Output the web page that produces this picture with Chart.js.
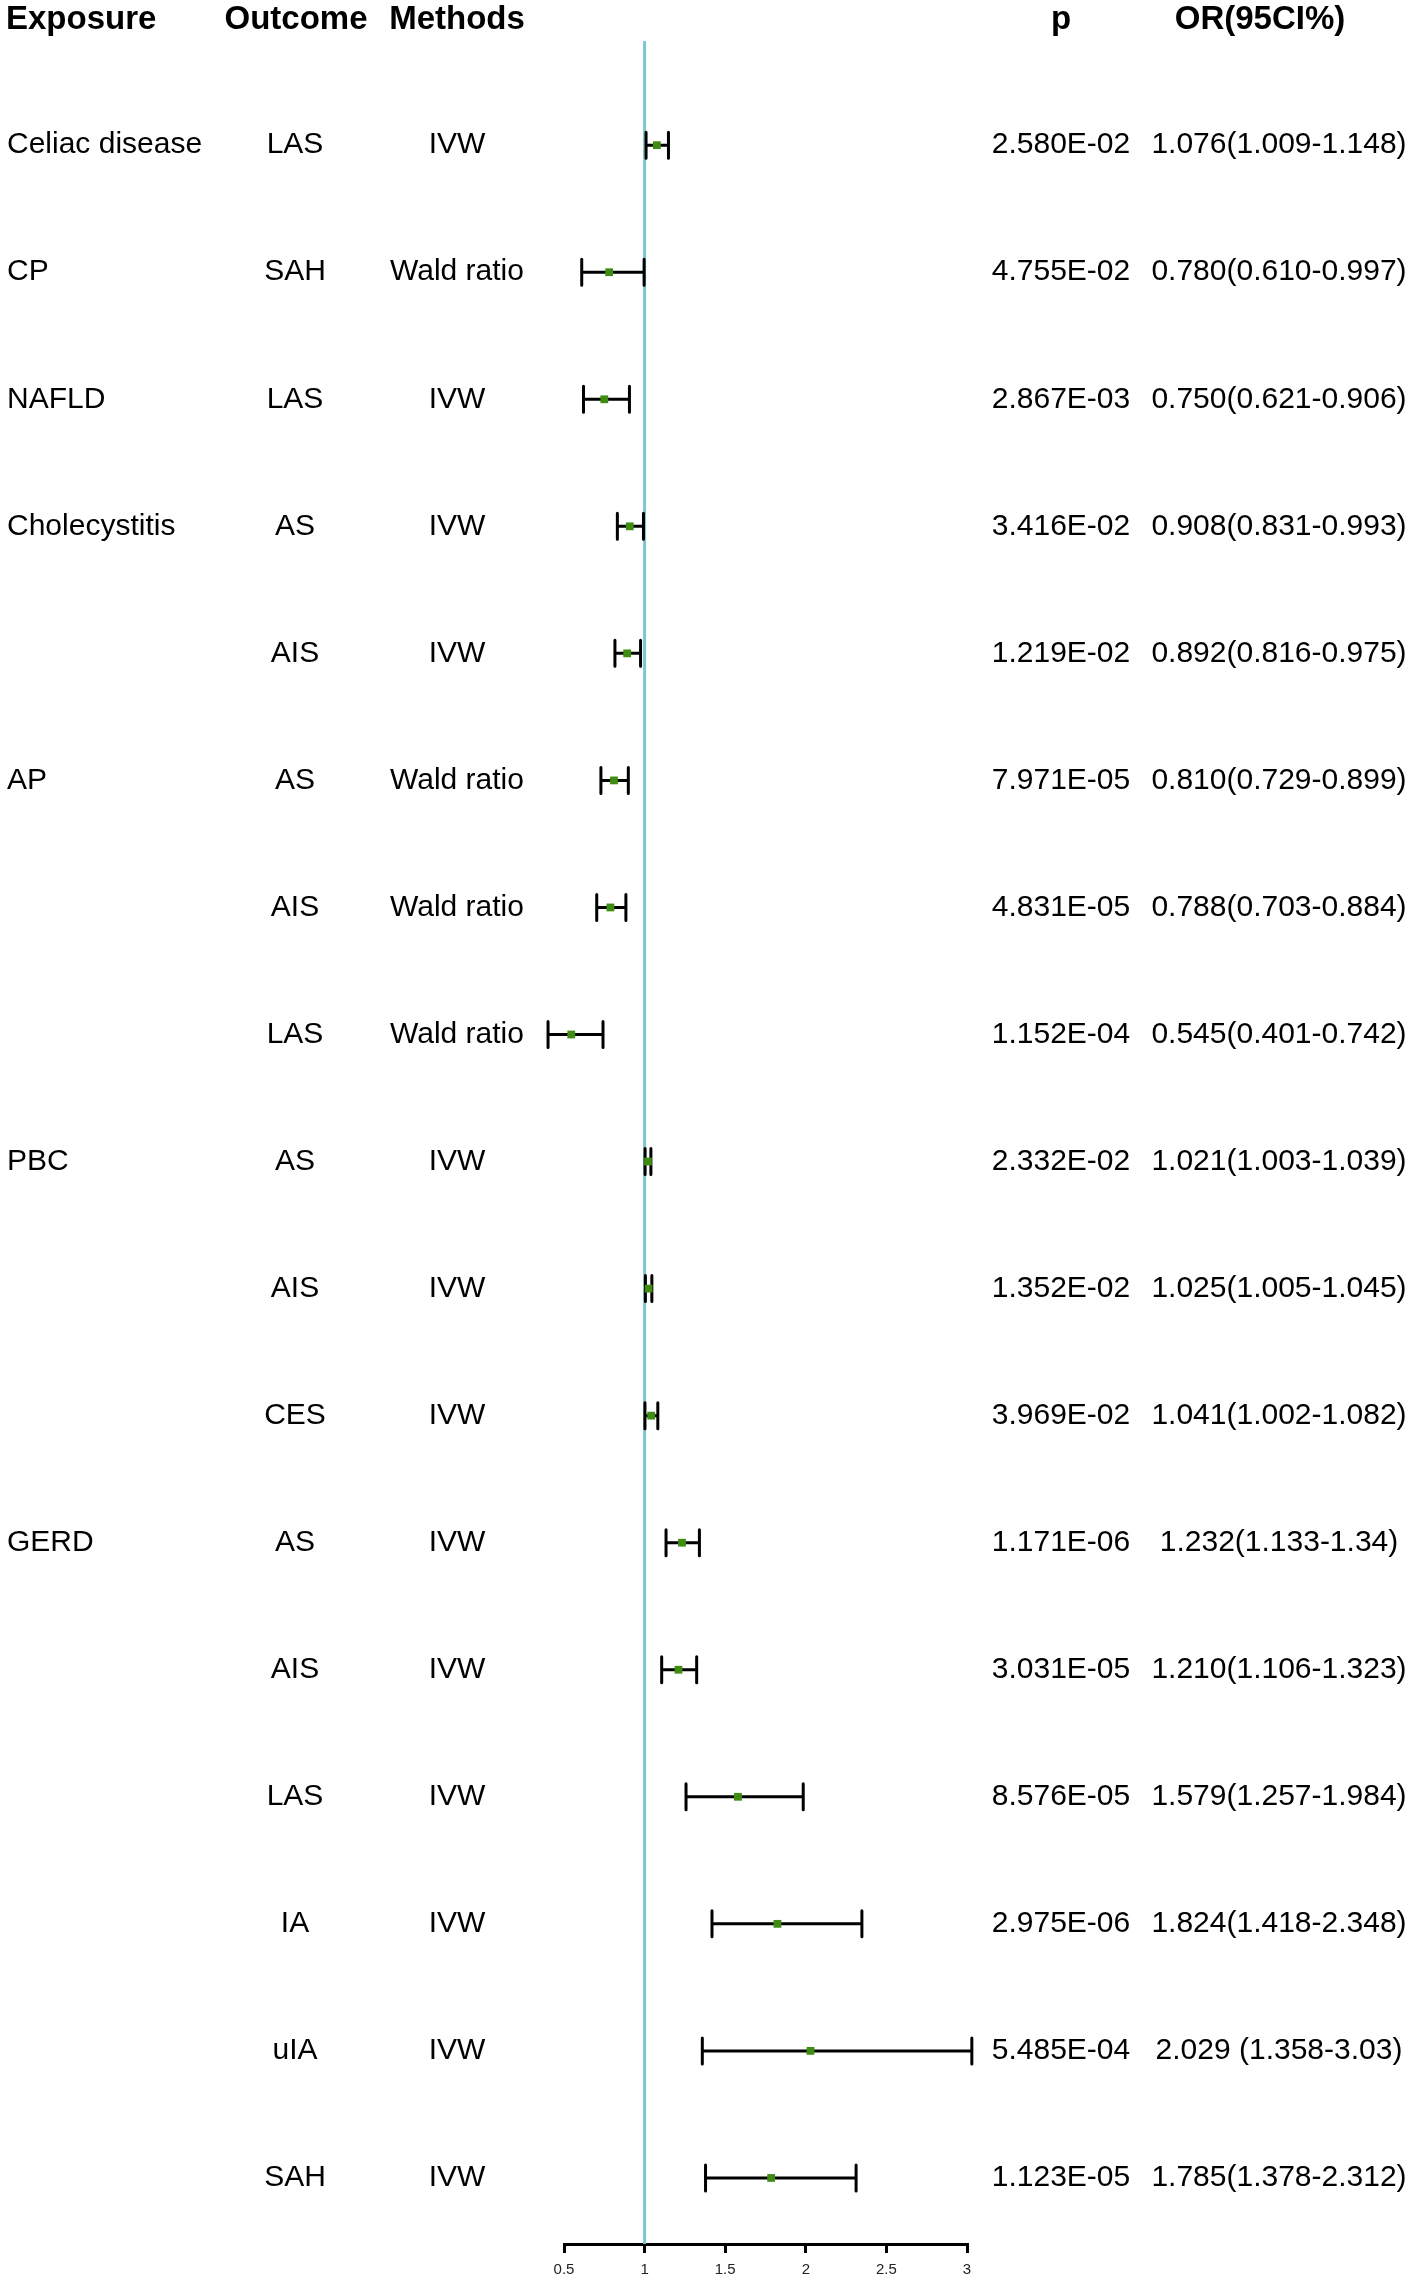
<!DOCTYPE html>
<html>
<head>
<meta charset="utf-8">
<script src="https://cdn.jsdelivr.net/npm/chart.js@4.4.1/dist/chart.umd.min.js"></script>
<style>
  html, body { margin: 0; padding: 0; background: #fff; }
  canvas { display: block; }
</style>
</head>
<body>
<canvas id="forest" width="1417" height="2284"></canvas>
<script>
const exposures = ['Celiac disease', 'CP', 'NAFLD', 'Cholecystitis', '', 'AP', '', '', 'PBC', '', '', 'GERD', '', '', '', '', ''];
const outcomes = ['LAS', 'SAH', 'LAS', 'AS', 'AIS', 'AS', 'AIS', 'LAS', 'AS', 'AIS', 'CES', 'AS', 'AIS', 'LAS', 'IA', 'uIA', 'SAH'];
const methods = ['IVW', 'Wald ratio', 'IVW', 'IVW', 'IVW', 'Wald ratio', 'Wald ratio', 'Wald ratio', 'IVW', 'IVW', 'IVW', 'IVW', 'IVW', 'IVW', 'IVW', 'IVW', 'IVW'];
const pValues = ['2.580E-02', '4.755E-02', '2.867E-03', '3.416E-02', '1.219E-02', '7.971E-05', '4.831E-05', '1.152E-04', '2.332E-02', '1.352E-02', '3.969E-02', '1.171E-06', '3.031E-05', '8.576E-05', '2.975E-06', '5.485E-04', '1.123E-05'];
const orText = ['1.076(1.009-1.148)', '0.780(0.610-0.997)', '0.750(0.621-0.906)', '0.908(0.831-0.993)', '0.892(0.816-0.975)', '0.810(0.729-0.899)', '0.788(0.703-0.884)', '0.545(0.401-0.742)', '1.021(1.003-1.039)', '1.025(1.005-1.045)', '1.041(1.002-1.082)', '1.232(1.133-1.34)', '1.210(1.106-1.323)', '1.579(1.257-1.984)', '1.824(1.418-2.348)', '2.029 (1.358-3.03)', '1.785(1.378-2.312)'];
const orValues = [1.076, 0.780, 0.750, 0.908, 0.892, 0.810, 0.788, 0.545, 1.021, 1.025, 1.041, 1.232, 1.210, 1.579, 1.824, 2.029, 1.785];
const ciLow = [1.009, 0.610, 0.621, 0.831, 0.816, 0.729, 0.703, 0.401, 1.003, 1.005, 1.002, 1.133, 1.106, 1.257, 1.418, 1.358, 1.378];
const ciHigh = [1.148, 0.997, 0.906, 0.993, 0.975, 0.899, 0.884, 0.742, 1.039, 1.045, 1.082, 1.34, 1.323, 1.984, 2.348, 3.03, 2.312];
const xTicks = [0.5, 1, 1.5, 2, 2.5, 3];
const headers = ['Exposure', 'Outcome', 'Methods', 'p', 'OR(95CI%)'];

// row i sits at y = i + 1
const points = orValues.map((v, i) => ({ x: v, y: i + 1 }));

const FONT = '"Liberation Sans", Arial, sans-serif';

// reference line at OR = 1 and the CI whiskers, under the points
const whiskers = {
    id: 'whiskers',
    beforeDatasetsDraw(chart) {
        const { ctx, chartArea, scales: { x, y } } = chart;
        ctx.save();
        ctx.strokeStyle = '#7fc5cf';
        ctx.lineWidth = 3;
        const x1 = x.getPixelForValue(1);
        ctx.beginPath();
        ctx.moveTo(x1, chartArea.top);
        ctx.lineTo(x1, chartArea.bottom);
        ctx.stroke();

        ctx.strokeStyle = '#000';
        ctx.lineWidth = 3;
        ctx.lineCap = 'round';
        ciLow.forEach((lo, i) => {
            const py = y.getPixelForValue(i + 1);
            const a = x.getPixelForValue(lo);
            const b = x.getPixelForValue(ciHigh[i]);
            ctx.beginPath();
            ctx.moveTo(a, py); ctx.lineTo(b, py);
            ctx.moveTo(a, py - 13); ctx.lineTo(a, py + 13);
            ctx.moveTo(b, py - 13); ctx.lineTo(b, py + 13);
            ctx.stroke();
        });
        ctx.restore();
    }
};

// the table text columns
const table = {
    id: 'table',
    afterDraw(chart) {
        const { ctx, scales: { y } } = chart;
        ctx.save();
        ctx.fillStyle = '#000';
        ctx.textBaseline = 'middle';

        ctx.font = 'bold 33px ' + FONT;
        ctx.textAlign = 'left';
        ctx.fillText(headers[0], 6, 20);
        ctx.textAlign = 'center';
        ctx.fillText(headers[1], 296, 20);
        ctx.fillText(headers[2], 457, 20);
        ctx.fillText(headers[3], 1061, 20);
        ctx.fillText(headers[4], 1260, 20);

        ctx.font = '30px ' + FONT;
        outcomes.forEach((o, i) => {
            const py = y.getPixelForValue(i + 1);
            ctx.textAlign = 'left';
            ctx.fillText(exposures[i], 7, py);
            ctx.textAlign = 'center';
            ctx.fillText(o, 295, py);
            ctx.fillText(methods[i], 457, py);
            ctx.fillText(pValues[i], 1061, py);
            ctx.fillText(orText[i], 1279, py);
        });
        ctx.restore();
    }
};

new Chart(document.getElementById('forest'), {
    type: 'scatter',
    data: {
        datasets: [{
            data: points,
            pointStyle: 'rect',
            pointRadius: 5.5,
            pointBorderWidth: 0,
            backgroundColor: '#3f8c12',
            borderColor: '#3f8c12',
            clip: false
        }]
    },
    options: {
        responsive: false,
        animation: false,
        layout: { padding: { top: 41, left: 564, right: 450, bottom: -3 } },
        plugins: { legend: { display: false }, tooltip: { enabled: false } },
        scales: {
            x: {
                type: 'linear',
                min: 0.5,
                max: 3,
                afterBuildTicks(axis) { axis.ticks = xTicks.map(v => ({ value: v })); },
                grid: { drawOnChartArea: false, drawTicks: true, tickLength: 9, color: '#000', lineWidth: 3 },
                border: { display: true, color: '#000', width: 3 },
                ticks: {
                    color: '#222',
                    font: { family: FONT, size: 15 },
                    padding: 8,
                    maxRotation: 0,
                    callback: v => String(v)
                }
            },
            y: {
                type: 'linear',
                reverse: true,
                min: 0.18,
                max: 17.52,
                display: false
            }
        }
    },
    plugins: [whiskers, table]
});
</script>
</body>
</html>
